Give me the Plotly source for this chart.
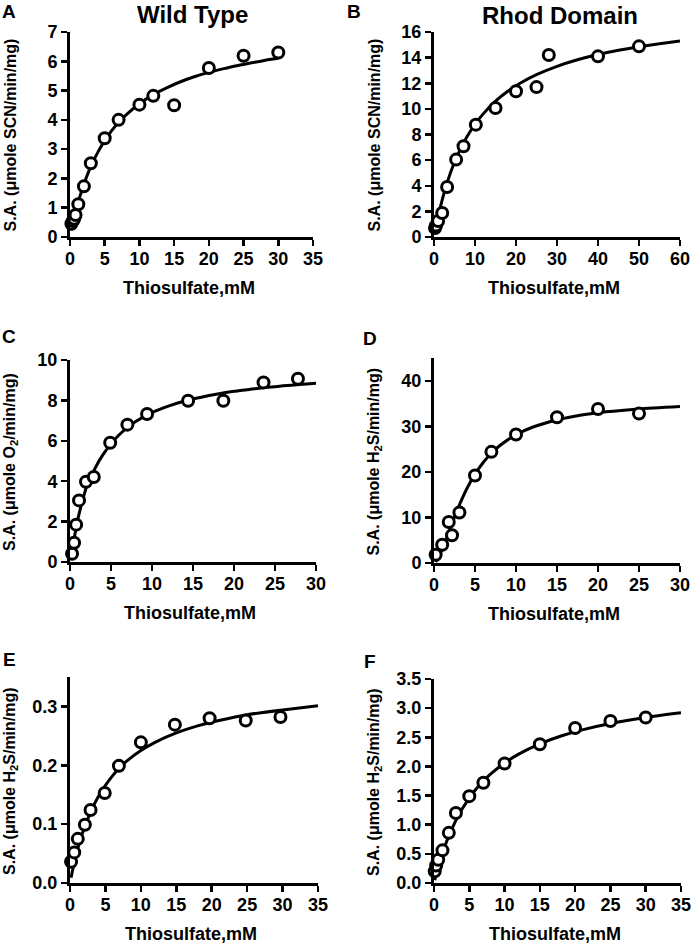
import plotly.graph_objects as go

# ---------------- data ----------------
# Panel A: Wild Type, SCN assay
a_x = [0.2, 0.4, 0.6, 0.8, 1.2, 2, 3, 5, 7, 10, 12, 15, 20, 25, 30]
a_y = [0.45, 0.55, 0.62, 0.75, 1.12, 1.73, 2.52, 3.37, 4.0, 4.52, 4.82, 4.5, 5.77, 6.19, 6.3]
a_fit_x = [0.2, 0.5, 1, 1.5, 2, 3, 4, 5, 6, 7, 8, 10, 12, 14, 16, 18, 20, 22, 24, 26, 28, 30]
a_fit_y = [0.23, 0.55, 1.03, 1.44, 1.80, 2.41, 2.89, 3.29, 3.63, 3.91, 4.15, 4.55, 4.86, 5.10,
           5.31, 5.48, 5.62, 5.74, 5.85, 5.94, 6.03, 6.10]

# Panel B: Rhod Domain, SCN assay
b_x = [0.25, 0.5, 1, 2, 3.2, 5.4, 7.2, 10.2, 15, 20, 25, 28, 40, 50]
b_y = [0.7, 0.9, 1.25, 1.87, 3.9, 6.04, 7.08, 8.77, 10.07, 11.37, 11.7, 14.2, 14.1, 14.88]
b_fit_x = [0.25, 0.5, 1, 2, 3, 4, 5, 6, 8, 10, 12, 15, 18, 21, 25, 30, 35, 40, 45, 50, 55, 60]
b_fit_y = [0.42, 0.82, 1.58, 2.90, 4.02, 4.99, 5.83, 6.57, 7.80, 8.80, 9.61, 10.60, 11.37,
           12.00, 12.67, 13.32, 13.83, 14.24, 14.57, 14.85, 15.08, 15.29]

# Panel C: Wild Type, O2 assay
c_x = [0.25, 0.5, 0.75, 1.1, 1.95, 2.9, 4.9, 7, 9.4, 14.4, 18.7, 23.6, 27.8]
c_y = [0.41, 0.95, 1.85, 3.05, 3.97, 4.21, 5.9, 6.8, 7.33, 7.98, 7.98, 8.89, 9.07]
c_fit_x = [0.25, 0.5, 0.75, 1, 1.5, 2, 3, 4, 5, 6, 7, 8, 10, 12, 14, 16, 18, 20, 22, 24, 26, 28, 30]
c_fit_y = [0.6, 1.15, 1.7, 2.2, 3.0, 3.7, 4.6, 5.3, 5.85, 6.3, 6.65, 6.95, 7.4, 7.72, 7.97,
           8.16, 8.32, 8.45, 8.55, 8.65, 8.72, 8.79, 8.85]

# Panel D: Rhod Domain, H2S assay
d_x = [0.2, 1.0, 1.8, 2.2, 3.1, 5, 7, 10, 15, 20, 25]
d_y = [1.8, 4.0, 9.0, 6.1, 11.1, 19.2, 24.4, 28.2, 32.0, 33.8, 32.8]
d_fit_x = [0.2, 0.5, 1, 1.5, 2, 2.5, 3, 4, 5, 6, 7, 8, 10, 12, 15, 18, 21, 25, 30]
d_fit_y = [0.24, 1.04, 2.97, 5.29, 7.72, 10.11, 12.35, 16.31, 19.51, 22.07, 24.1, 25.74,
           28.15, 29.8, 31.4, 32.47, 33.18, 33.82, 34.35]

# Panel E: Wild Type, H2S assay
e_x = [0.15, 0.6, 1.1, 2.1, 2.9, 4.9, 6.9, 10, 14.8, 19.7, 24.8, 29.7]
e_y = [0.036, 0.052, 0.075, 0.099, 0.124, 0.153, 0.199, 0.239, 0.269, 0.280, 0.276, 0.282]
e_fit_x = [0.15, 0.5, 1, 1.5, 2, 3, 4, 5, 6, 7, 8, 10, 12, 15, 18, 21, 25, 30, 35]
e_fit_y = [0.009, 0.029, 0.054, 0.075, 0.093, 0.123, 0.147, 0.166, 0.182, 0.196, 0.207,
           0.225, 0.239, 0.255, 0.267, 0.276, 0.286, 0.294, 0.301]

# Panel F: Rhod Domain, H2S assay
f_x = [0.1, 0.3, 0.6, 1.2, 2.1, 3.1, 5, 7, 10, 15, 20, 25, 30]
f_y = [0.2, 0.3, 0.4, 0.56, 0.86, 1.2, 1.49, 1.72, 2.05, 2.38, 2.66, 2.78, 2.84]
f_fit_x = [0.1, 0.3, 0.6, 1, 1.5, 2, 3, 4, 5, 6, 7, 8, 10, 12, 15, 18, 21, 25, 30, 35]
f_fit_y = [0.049, 0.144, 0.276, 0.437, 0.617, 0.777, 1.05, 1.273, 1.458, 1.616, 1.75, 1.867,
           2.06, 2.212, 2.388, 2.522, 2.628, 2.737, 2.841, 2.92]

x_title = "Thiosulfate,mM"
y_titles = ["S.A. (μmole SCN/min/mg)", "S.A. (μmole SCN/min/mg)",
            "S.A. (μmole O<sub>2</sub>/min/mg)", "S.A. (μmole H<sub>2</sub>S/min/mg)",
            "S.A. (μmole H<sub>2</sub>S/min/mg)", "S.A. (μmole H<sub>2</sub>S/min/mg)"]
panel_letters = ["A", "B", "C", "D", "E", "F"]
col_titles = ["Wild Type", "Rhod Domain"]

# ---------------- layout helpers ----------------
W, H = 693, 949
FONT = "Liberation Sans, Arial, Helvetica, sans-serif"


def px(x):
    return x / W


def py(y):
    return 1 - y / H


panels = [
    dict(x=a_x, y=a_y, fx=a_fit_x, fy=a_fit_y, xp=(70, 313), yp=(237, 32),
         xr=35, xd=5, yr=7, yd=1, fmt=""),
    dict(x=b_x, y=b_y, fx=b_fit_x, fy=b_fit_y, xp=(434, 680), yp=(237, 32),
         xr=60, xd=10, yr=16, yd=2, fmt=""),
    dict(x=c_x, y=c_y, fx=c_fit_x, fy=c_fit_y, xp=(70, 316), yp=(562, 360),
         xr=30, xd=5, yr=10, yd=2, fmt=""),
    dict(x=d_x, y=d_y, fx=d_fit_x, fy=d_fit_y, xp=(434, 680), yp=(563, 358),
         xr=30, xd=5, yr=45, yd=10, fmt=""),
    dict(x=e_x, y=e_y, fx=e_fit_x, fy=e_fit_y, xp=(70, 318), yp=(883, 677),
         xr=35, xd=5, yr=0.35, yd=0.1, fmt=".1f"),
    dict(x=f_x, y=f_y, fx=f_fit_x, fy=f_fit_y, xp=(434, 681), yp=(883, 679),
         xr=35, xd=5, yr=3.5, yd=0.5, fmt=".1f"),
]

fig = go.Figure()
layout = dict(
    template="none",
    width=W, height=H, margin=dict(l=0, r=0, t=0, b=0, autoexpand=False),
    paper_bgcolor="white", plot_bgcolor="white", showlegend=False,
    font=dict(family=FONT, color="black"),
)
annotations = []

for i, p in enumerate(panels):
    n = "" if i == 0 else str(i + 1)
    xa, ya = "x" + n, "y" + n
    fig.add_trace(go.Scatter(x=p["fx"], y=p["fy"], mode="lines", xaxis=xa, yaxis=ya,
                             line=dict(color="black", width=3, shape="spline", smoothing=0.6),
                             cliponaxis=False, hoverinfo="skip"))
    fig.add_trace(go.Scatter(x=p["x"], y=p["y"], mode="markers", xaxis=xa, yaxis=ya,
                             marker=dict(symbol="circle", size=11, color="white",
                                         line=dict(color="black", width=3)),
                             cliponaxis=False))
    axcommon = dict(showline=True, linewidth=3, linecolor="black", ticks="outside",
                    ticklen=6, tickwidth=2.5, tickcolor="black", showgrid=False,
                    zeroline=False, automargin=False,
                    tickfont=dict(family=FONT, size=18, color="black", weight="bold"))
    layout["xaxis" + n] = dict(domain=[px(p["xp"][0]), px(p["xp"][1])], anchor=ya,
                               range=[0, p["xr"]], tick0=0, dtick=p["xd"],
                               ticklabelstandoff=-3, **axcommon)
    layout["yaxis" + n] = dict(domain=[py(p["yp"][0]), py(p["yp"][1])], anchor=xa,
                               range=[0, p["yr"]], tick0=0, dtick=p["yd"],
                               tickformat=p["fmt"], **axcommon)

    # x-axis title
    xc = (p["xp"][0] + p["xp"][1]) / 2 - 3
    annotations.append(dict(text="<b>" + x_title + "</b>", x=px(xc), y=py(p["yp"][0] + 51),
                            xref="paper", yref="paper", showarrow=False,
                            xanchor="center", yanchor="middle",
                            font=dict(family=FONT, size=18, color="black")))
    # y-axis title
    yc = (p["yp"][0] + p["yp"][1]) / 2 + 1
    annotations.append(dict(text="<b>" + y_titles[i] + "</b>", x=px(p["xp"][0] - 60),
                            y=py(yc), xref="paper", yref="paper", showarrow=False,
                            textangle=-90, xanchor="center", yanchor="middle",
                            font=dict(family=FONT, size=16, color="black")))

# panel letters
letter_pos = [(9, 12), (354, 12), (9, 336), (370, 338), (9, 659), (370, 661)]
for L, (lx, ly) in zip(panel_letters, letter_pos):
    annotations.append(dict(text="<b>" + L + "</b>", x=px(lx), y=py(ly), xref="paper",
                            yref="paper", showarrow=False, xanchor="center",
                            yanchor="middle",
                            font=dict(family=FONT, size=19, color="black")))

# column titles
for t, (tx, ty) in zip(col_titles, [(192, 14), (560, 15)]):
    annotations.append(dict(text="<b>" + t + "</b>", x=px(tx), y=py(ty), xref="paper",
                            yref="paper", showarrow=False, xanchor="center",
                            yanchor="middle",
                            font=dict(family=FONT, size=24, color="black")))

layout["annotations"] = annotations
fig.update_layout(**layout)
fig.write_html("out.html", config={"displayModeBar": False, "staticPlot": True},
               post_script="document.body.style.margin='0';document.body.style.overflow='hidden';")
